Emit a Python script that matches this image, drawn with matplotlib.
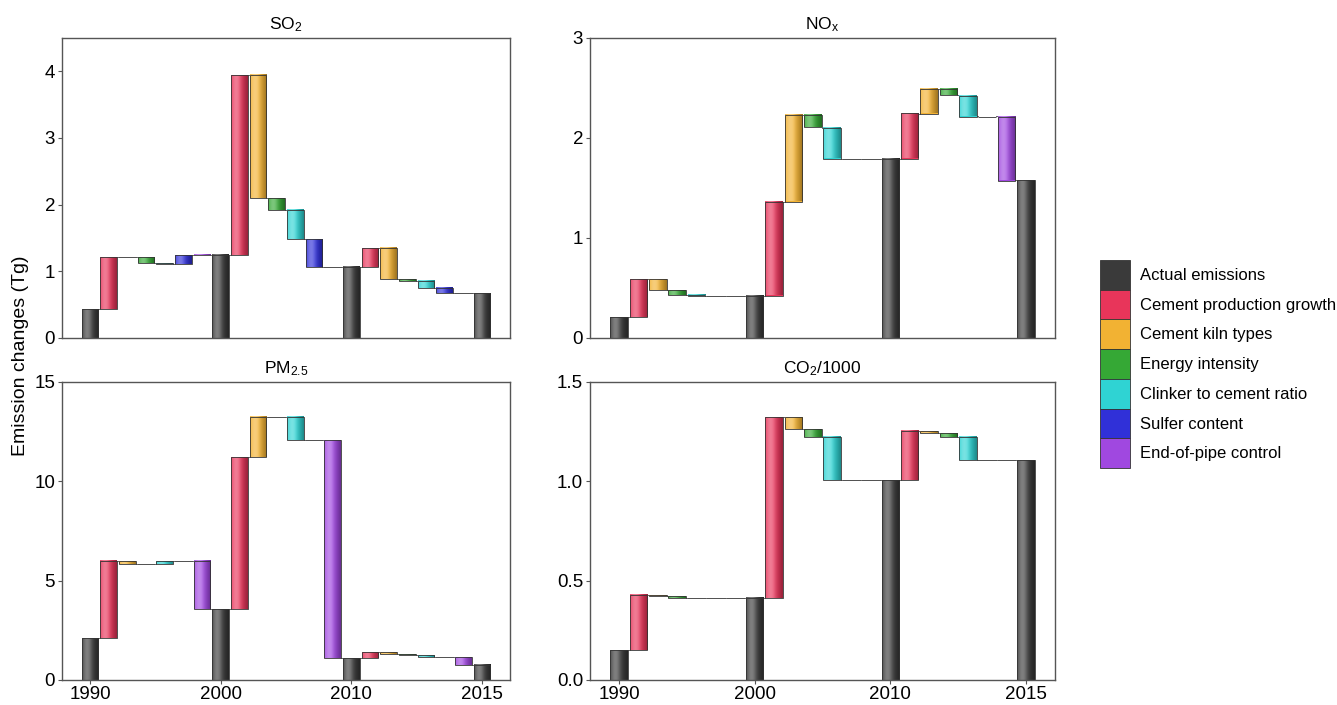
import numpy as np
import matplotlib
matplotlib.use("Agg")
import matplotlib.pyplot as plt
from matplotlib.patches import Patch
from matplotlib.colors import to_rgb

plt.rcParams['font.family'] = ['Liberation Sans', 'DejaVu Sans']
plt.rcParams['mathtext.fontset'] = 'custom'
plt.rcParams['mathtext.rm'] = 'Liberation Sans'
plt.rcParams['mathtext.it'] = 'Liberation Sans'

# ---------------- data ----------------
years = [1990, 2000, 2010, 2015]
drivers = ["Cement production growth", "Cement kiln types", "Energy intensity",
           "Clinker to cement ratio", "Sulfer content", "End-of-pipe control"]
legend_labels = ["Actual emissions"] + drivers
colors = ["#3a3a3a", "#e8355a", "#f2b233", "#35a835", "#2fd3d3", "#3030d8", "#a048e0"]

# emissions in the first year, and driver contributions per period
# (order: production, kiln, energy, clinker, sulfur, end-of-pipe)
so2_start = 0.43
so2_changes = [[0.78, 0.00, -0.09, -0.01, 0.13, 0.01],
               [2.70, -1.85, -0.18, -0.44, -0.41, 0.00],
               [0.28, -0.47, -0.02, -0.11, -0.08, 0.00]]

nox_start = 0.21
nox_changes = [[0.38, -0.11, -0.05, -0.005, 0.0, 0.0],
               [0.94, 0.87, -0.13, -0.31, 0.0, 0.0],
               [0.45, 0.25, -0.07, -0.21, 0.0, -0.64]]

pm_start = 2.09
pm_changes = [[3.91, -0.15, 0.0, 0.15, 0.0, -2.45],
              [7.65, 2.06, 0.0, -1.20, 0.0, -10.96],
              [0.30, -0.10, -0.02, -0.10, 0.0, -0.40]]

co2_start = 0.15
co2_changes = [[0.28, -0.005, -0.01, 0.0, 0.0, 0.0],
               [0.91, -0.06, -0.04, -0.22, 0.0, 0.0],
               [0.25, -0.01, -0.02, -0.12, 0.0, 0.0]]

panels = [("SO$_2$", so2_start, so2_changes, 4.5, [0, 1, 2, 3, 4], ["0", "1", "2", "3", "4"]),
          ("NO$_x$", nox_start, nox_changes, 3.0, [0, 1, 2, 3], ["0", "1", "2", "3"]),
          ("PM$_{2.5}$", pm_start, pm_changes, 15.0, [0, 5, 10, 15], ["0", "5", "10", "15"]),
          ("CO$_2$/1000", co2_start, co2_changes, 1.5, [0, 0.5, 1.0, 1.5], ["0.0", "0.5", "1.0", "1.5"])]

# ---------------- figure ----------------
W, H = 1337, 705
fig = plt.figure(figsize=(W / 100, H / 100), dpi=100)

def px_axes(l, r, t, b):
    return fig.add_axes([l / W, 1 - b / H, (r - l) / W, (b - t) / H])

boxes = [(62, 510, 38, 338), (590, 1055, 38, 338),
         (62, 510, 382, 680), (590, 1055, 382, 680)]

BW = 0.9
EDGE = "#333333"


def shade(ax, rect, base):
    x, y = rect.get_x(), rect.get_y()
    w, h = rect.get_width(), rect.get_height()
    if abs(h) < 1e-9:
        return
    c = np.array(to_rgb(base))
    t = np.linspace(0, 1, 40)
    # lighter towards left-middle, darker at the right edge
    light = 0.35 * np.exp(-((t - 0.3) / 0.3) ** 2)
    dark = 0.35 * np.clip((t - 0.45) / 0.55, 0, 1) ** 1.2
    cols = c[None, :] * (1 - light[:, None]) + light[:, None]
    cols = cols * (1 - dark[:, None])
    img = cols[None, :, :]
    y0, y1 = min(y, y + h), max(y, y + h)
    ax.imshow(img, extent=[x, x + w, y0, y1], aspect='auto',
              interpolation='bilinear', zorder=2.1)


for (title, start, changes, ymax, yt, ytl), box in zip(panels, boxes):
    ax = px_axes(*box)
    level = start
    pos = 0
    bars_info = []  # (x, bottom, height, colour)
    bars_info.append((pos, 0.0, level, colors[0]))
    for period in changes:
        for k, d in enumerate(period):
            pos += 1
            bars_info.append((pos, level, d, colors[k + 1]))
            level = level + d
        pos += 1
        bars_info.append((pos, 0.0, level, colors[0]))

    xs = [b[0] for b in bars_info]
    bottoms = [b[1] for b in bars_info]
    heights = [b[2] for b in bars_info]
    cols = [b[3] for b in bars_info]
    rects = ax.bar(xs, heights, bottom=bottoms, width=BW, color=cols,
                   edgecolor='none', zorder=2)
    for r, c in zip(rects, cols):
        shade(ax, r, c)
    ax.bar(xs, heights, bottom=bottoms, width=BW, fill=False,
           edgecolor=EDGE, linewidth=0.6, zorder=2.3)

    # connectors
    for i in range(len(bars_info) - 1):
        x0 = xs[i] + BW / 2
        x1 = xs[i + 1] - BW / 2
        lvl = bottoms[i] + heights[i]
        ax.plot([x0, x1], [lvl, lvl], color="#666666", lw=0.7, zorder=1.5)

    ax.set_xlim(-1.5, 22.5)
    ax.set_ylim(0, ymax)
    ax.set_yticks(yt)
    ax.set_yticklabels(ytl, fontsize=13.5)
    ax.set_title(title, fontsize=12.5, pad=6)
    for s in ax.spines.values():
        s.set_color("#555555")
        s.set_linewidth(1.0)
    ax.tick_params(axis='y', length=3, width=0.8, color="#555555", pad=2)
    if box[3] > 600:
        ax.set_xticks([0, 7, 14, 21])
        ax.set_xticklabels([str(y) for y in years], fontsize=13.5)
        ax.tick_params(axis='x', length=3, width=0.8, color="#555555", pad=1)
    else:
        ax.set_xticks([])

fig.text(21 / W, 1 - 356 / H, "Emission changes (Tg)", rotation=90,
         ha='center', va='center', fontsize=14)

handles = [Patch(facecolor=c, edgecolor=EDGE, linewidth=0.6) for c in colors]
leg = fig.legend(handles, legend_labels, loc='center left',
                 bbox_to_anchor=(1100 / W, 1 - 364 / H), frameon=False,
                 fontsize=12, handlelength=1.8, handleheight=2.37,
                 labelspacing=0.0, handletextpad=0.6, borderpad=0.0,
                 borderaxespad=0.0)

fig.savefig("out.png", dpi=100)
